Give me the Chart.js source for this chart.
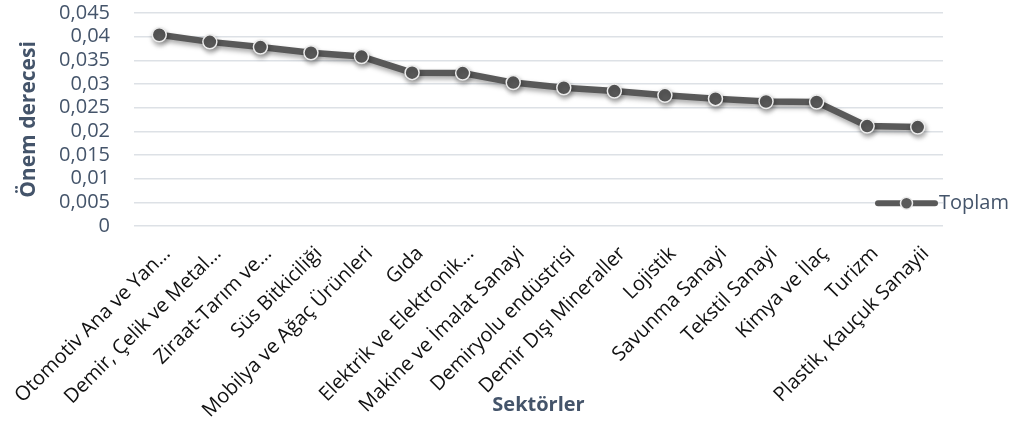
<!DOCTYPE html>
<html>
<head>
<meta charset="utf-8">
<script src="https://cdn.jsdelivr.net/npm/chart.js@4/dist/chart.umd.min.js"></script>
<style>
  html, body { margin: 0; padding: 0; background: #fff; }
  #wrap { width: 1012px; height: 434px; position: relative; }
</style>
</head>
<body>
<div id="wrap"><canvas id="grafik"></canvas></div>
<script>
// veriler
const sektorler = [
    'Otomotiv Ana ve Yan…', 'Demir, Çelik ve Metal…', 'Ziraat-Tarım ve…', 'Süs Bitkiciliği',
    'Mobilya ve Ağaç Ürünleri', 'Gıda', 'Elektrik ve Elektronik…', 'Makine ve İmalat Sanayi',
    'Demiryolu endüstrisi', 'Demir Dışı Mineraller', 'Lojistik', 'Savunma Sanayi',
    'Tekstil Sanayi', 'Kimya ve İlaç', 'Turizm', 'Plastik, Kauçuk Sanayii'
];
const toplam = [
    0.0404, 0.0389, 0.0378, 0.0366, 0.0358, 0.0324, 0.0323, 0.0303,
    0.0292, 0.0285, 0.0276, 0.0269, 0.0263, 0.0262, 0.0211, 0.0209
];
const yEtiketleri = ['0', '0,005', '0,01', '0,015', '0,02', '0,025', '0,03', '0,035', '0,04', '0,045'];

const koyuGri = '#595959';
const lacivertGri = '#44546A';
const fontAdi = '"Open Sans", sans-serif';

// çizgiye yumuşak gölge
const golgePlugin = {
    id: 'golge',
    beforeDatasetDraw(chart) {
        const ctx = chart.ctx;
        ctx.save();
        ctx.shadowColor = 'rgba(0,0,0,0.35)';
        ctx.shadowBlur = 5;
        ctx.shadowOffsetX = 1;
        ctx.shadowOffsetY = 3;
    },
    afterDatasetDraw(chart) {
        chart.ctx.restore();
    }
};

// Excel tarzı lejant (çizim alanının üstüne biner)
const lejantPlugin = {
    id: 'lejant',
    afterDraw(chart) {
        const ctx = chart.ctx;
        const ds = chart.data.datasets[0];
        const area = chart.chartArea;
        const y = chart.scales.y.getPixelForValue(0.005) + 1;
        const x0 = area.right - 65;
        const x1 = area.right - 8;
        ctx.save();
        ctx.strokeStyle = ds.borderColor;
        ctx.lineWidth = 6;
        ctx.lineCap = 'round';
        ctx.beginPath();
        ctx.moveTo(x0, y);
        ctx.lineTo(x1, y);
        ctx.stroke();
        ctx.beginPath();
        ctx.arc((x0 + x1) / 2, y, 6, 0, Math.PI * 2);
        ctx.fillStyle = ds.pointBackgroundColor;
        ctx.fill();
        ctx.lineWidth = 1.5;
        ctx.strokeStyle = ds.pointBorderColor;
        ctx.stroke();
        ctx.fillStyle = lacivertGri;
        ctx.font = '20px ' + fontAdi;
        ctx.textBaseline = 'middle';
        ctx.textAlign = 'left';
        ctx.fillText(ds.label, x1 + 4, y);
        ctx.restore();
    }
};

new Chart(document.getElementById('grafik').getContext('2d'), {
    type: 'line',
    data: {
        labels: sektorler,
        datasets: [{
            label: 'Toplam',
            data: toplam,
            borderColor: koyuGri,
            borderWidth: 6.5,
            pointRadius: 7,
            pointBorderWidth: 1.5,
            pointBackgroundColor: koyuGri,
            pointBorderColor: '#ececec',
            tension: 0
        }]
    },
    options: {
        responsive: true,
        maintainAspectRatio: false,
        animation: false,
        layout: { padding: { top: 0, right: 69, bottom: 0, left: 0 } },
        scales: {
            x: {
                offset: true,
                grid: { display: false, drawTicks: false },
                border: { display: false },
                // döndürülmüş ilk etiket için fazladan sol boşluk bırakma
                afterFit: (scale) => { scale.paddingLeft = 0; },
                ticks: {
                    autoSkip: false,
                    minRotation: 45,
                    maxRotation: 45,
                    padding: 16,
                    labelOffset: 8,
                    color: '#111',
                    font: { family: fontAdi, size: 20 }
                },
                title: {
                    display: true,
                    text: 'Sektörler',
                    color: lacivertGri,
                    font: { family: fontAdi, size: 20, weight: 'bold' },
                    padding: { top: -45.5, bottom: 17 }
                }
            },
            y: {
                min: 0,
                max: 0.045,
                grid: { color: '#dde1e6', lineWidth: 1.5, drawTicks: false },
                border: { display: false },
                afterFit: (scale) => { scale.paddingTop = 13; scale.width = 134; },
                ticks: {
                    autoSkip: false,
                    stepSize: 0.005,
                    padding: 24,
                    color: lacivertGri,
                    font: { family: fontAdi, size: 20 },
                    callback: (v, i) => yEtiketleri[i]
                },
                title: {
                    display: true,
                    text: 'Önem derecesi',
                    color: lacivertGri,
                    font: { family: fontAdi, size: 21, weight: 'bold' },
                    padding: { top: 16, bottom: 17 }
                }
            }
        },
        plugins: {
            legend: { display: false },
            tooltip: { enabled: false }
        }
    },
    plugins: [golgePlugin, lejantPlugin]
});
</script>
</body>
</html>
